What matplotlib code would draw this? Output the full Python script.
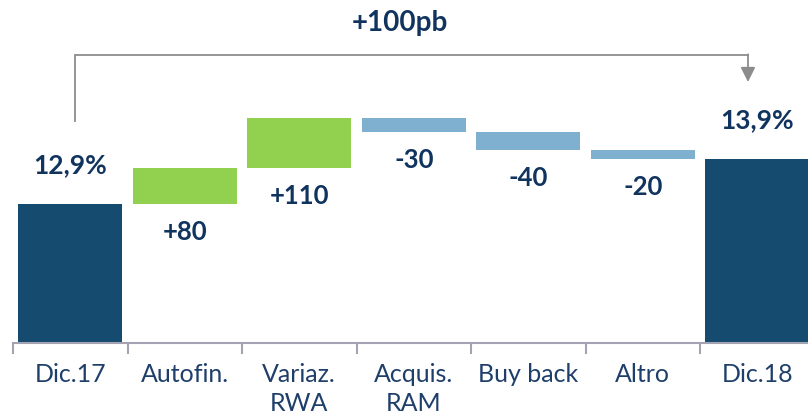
import matplotlib.pyplot as plt

# dati del grafico (CET1 ratio, variazioni in punti base)
categorie = ["Dic.17", "Autofin.", "Variaz.\nRWA", "Acquis.\nRAM", "Buy back", "Altro", "Dic.18"]
valore_iniziale = 12.9
valore_finale = 13.9
delta_pb = [80, 110, -30, -40, -20]

col_totale = "#154b6e"
col_positivo = "#92d050"
col_negativo = "#7fb0cf"
col_testo = "#11345f"
col_tick = "#1f3f6b"
col_freccia = "#8c8c8c"

plt.rcParams["font.family"] = ["Lato", "DejaVu Sans"]

fig = plt.figure(figsize=(8.08, 4.14), dpi=100)
ax = fig.add_axes([13 / 808, 70 / 414, 801.5 / 808, 344 / 414])

y_min = 9.81
ax.set_xlim(-0.5, 6.5)
ax.set_ylim(y_min, y_min + 344 / 45)

larghezza = 0.91

# barre totali
ax.bar(0, valore_iniziale - y_min, bottom=y_min, width=larghezza, color=col_totale)
ax.bar(6, valore_finale - y_min, bottom=y_min, width=larghezza, color=col_totale)
ax.annotate(f"{valore_iniziale:.1f}%".replace(".", ","), (0, valore_iniziale),
            xytext=(0, 29), textcoords="offset points", ha="center", va="center",
            fontsize=19, fontweight="bold", color=col_testo)
ax.annotate(f"{valore_finale:.1f}%".replace(".", ","), (6, valore_finale),
            xytext=(0, 29), textcoords="offset points", ha="center", va="center",
            fontsize=19, fontweight="bold", color=col_testo)

# barre delle variazioni
livello = valore_iniziale
for i, d in enumerate(delta_pb, start=1):
    h = d / 100
    colore = col_positivo if d > 0 else col_negativo
    ax.bar(i, h, bottom=livello, width=larghezza, color=colore)
    fondo = min(livello, livello + h)
    ax.annotate(f"{d:+d}", (i, fondo), xytext=(0, -19.5), textcoords="offset points",
                ha="center", va="center", fontsize=18.5, fontweight="bold", color=col_testo)
    livello += h

# freccia +100pb
y_top = 16.21
ax.plot([0.041, 0.041, 5.919], [14.74, y_top, y_top], color=col_freccia, lw=1.3,
        clip_on=False, solid_joinstyle="miter")
ax.annotate("", xy=(5.919, 15.61), xytext=(5.919, y_top + 0.015),
            arrowprops=dict(arrowstyle="-|>", color=col_freccia, lw=1.3,
                            mutation_scale=22, shrinkA=0, shrinkB=0),
            annotation_clip=False)
totale_pb = sum(delta_pb)
fig.text(400 / 808, 1 - 23 / 414, f"{totale_pb:+d}pb", ha="center", va="center",
         fontsize=20, fontweight="bold", color=col_testo)

# assi
for s in ["left", "right", "top"]:
    ax.spines[s].set_visible(False)
ax.spines["bottom"].set_color("#a3a3b3")
ax.spines["bottom"].set_linewidth(1.5)
ax.set_yticks([])
ax.set_xticks(range(len(categorie)))
ax.set_xticklabels(categorie, fontsize=18, color=col_tick, linespacing=1.3)
ax.tick_params(axis="x", which="major", length=0, pad=14)
ax.set_xticks([i - 0.5 for i in range(len(categorie) + 1)], minor=True)
ax.tick_params(axis="x", which="minor", length=8, width=1.5, color="#a3a3b3")

fig.savefig("out.png", dpi=100)
